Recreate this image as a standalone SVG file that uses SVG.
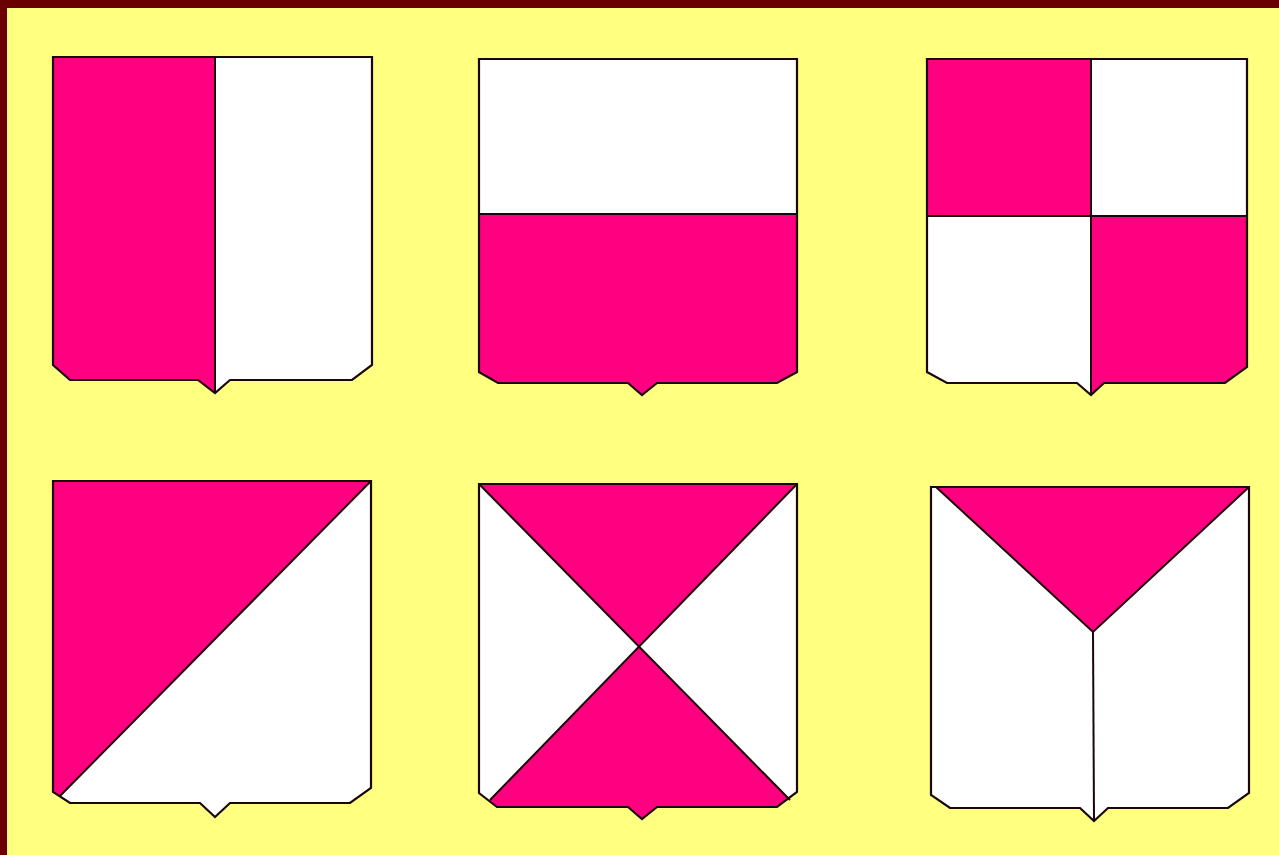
<svg xmlns="http://www.w3.org/2000/svg" width="1279" height="855" viewBox="0 0 1279 855">
<style>
.p{fill:#ff0080}
.w{fill:#ffffff}
.o{fill:none;stroke:#1a0808;stroke-width:2.2;stroke-linejoin:miter}
.l{stroke:#1a0808;stroke-width:2;fill:none}
</style>
<rect x="0" y="0" width="1279" height="855" fill="#ffff80"/>
<rect x="0" y="0" width="1279" height="8" fill="#6b0000"/>
<rect x="0" y="0" width="7" height="855" fill="#6b0000"/>

<g id="shield1">
<clipPath id="c1"><path d="M53,57 H372 V365 L352,380 H230 L215,393 L198,380 H70 L53,365 Z"/></clipPath>
<g clip-path="url(#c1)">
<rect x="53" y="57" width="162" height="340" class="p"/>
<rect x="215" y="57" width="160" height="340" class="w"/>
</g>
<line x1="215" y1="57" x2="215" y2="393" class="l"/>
<path d="M53,57 H372 V365 L352,380 H230 L215,393 L198,380 H70 L53,365 Z" class="o"/>
</g>

<g id="shield2">
<clipPath id="c2"><path d="M479,59 H797 V372 L777,383 H657 L642,395 L628,383 H498 L479,372 Z"/></clipPath>
<g clip-path="url(#c2)">
<rect x="479" y="59" width="320" height="155" class="w"/>
<rect x="479" y="214" width="320" height="185" class="p"/>
</g>
<line x1="479" y1="214" x2="797" y2="214" class="l"/>
<path d="M479,59 H797 V372 L777,383 H657 L642,395 L628,383 H498 L479,372 Z" class="o"/>
</g>

<g id="shield3">
<clipPath id="c3"><path d="M927,59 H1247 V367 L1225,383 H1104 L1091,395 L1077,383 H947 L927,372 Z"/></clipPath>
<g clip-path="url(#c3)">
<rect x="927" y="59" width="164" height="157" class="p"/>
<rect x="1091" y="59" width="158" height="157" class="w"/>
<rect x="927" y="216" width="164" height="182" class="w"/>
<rect x="1091" y="216" width="158" height="182" class="p"/>
</g>
<line x1="1091" y1="59" x2="1091" y2="395" class="l"/>
<line x1="927" y1="216" x2="1247" y2="216" class="l"/>
<path d="M927,59 H1247 V367 L1225,383 H1104 L1091,395 L1077,383 H947 L927,372 Z" class="o"/>
</g>

<g id="shield4">
<clipPath id="c4"><path d="M53,481 H371 V788 L350,803 H230 L215,817 L200,803 H70 L53,792 Z"/></clipPath>
<g clip-path="url(#c4)">
<rect x="53" y="481" width="320" height="340" class="w"/>
<path d="M53,481 H371 L60,796 L53,796 Z" class="p"/>
</g>
<line x1="371" y1="481" x2="60" y2="796" class="l"/>
<path d="M53,481 H371 V788 L350,803 H230 L215,817 L200,803 H70 L53,792 Z" class="o"/>
</g>

<g id="shield5">
<clipPath id="c5"><path d="M479,484 H797 V792 L777,807 H657 L642,819 L628,807 H497 L479,793 Z"/></clipPath>
<g clip-path="url(#c5)">
<rect x="479" y="484" width="320" height="340" class="w"/>
<path d="M479,484 H797 L639,646.6 Z" class="p"/>
<path d="M639,646.6 L819.5,830 L460.9,830 Z" class="p"/>
</g>
<line x1="479" y1="484" x2="790" y2="800" class="l"/>
<line x1="797" y1="484" x2="490" y2="800" class="l"/>
<path d="M479,484 H797 V792 L777,807 H657 L642,819 L628,807 H497 L479,793 Z" class="o"/>
</g>

<g id="shield6">
<clipPath id="c6"><path d="M931,487 H1249 V793 L1228,808 H1108 L1094,821 L1080,808 H950 L931,795 Z"/></clipPath>
<g clip-path="url(#c6)">
<rect x="931" y="487" width="320" height="340" class="w"/>
<path d="M936,487 H1249 L1093,632 Z" class="p"/>
</g>
<path d="M936,487 L1093,632 L1249,487" class="l"/>
<line x1="1093" y1="632" x2="1094" y2="821" class="l"/>
<path d="M931,487 H1249 V793 L1228,808 H1108 L1094,821 L1080,808 H950 L931,795 Z" class="o"/>
</g>
</svg>
